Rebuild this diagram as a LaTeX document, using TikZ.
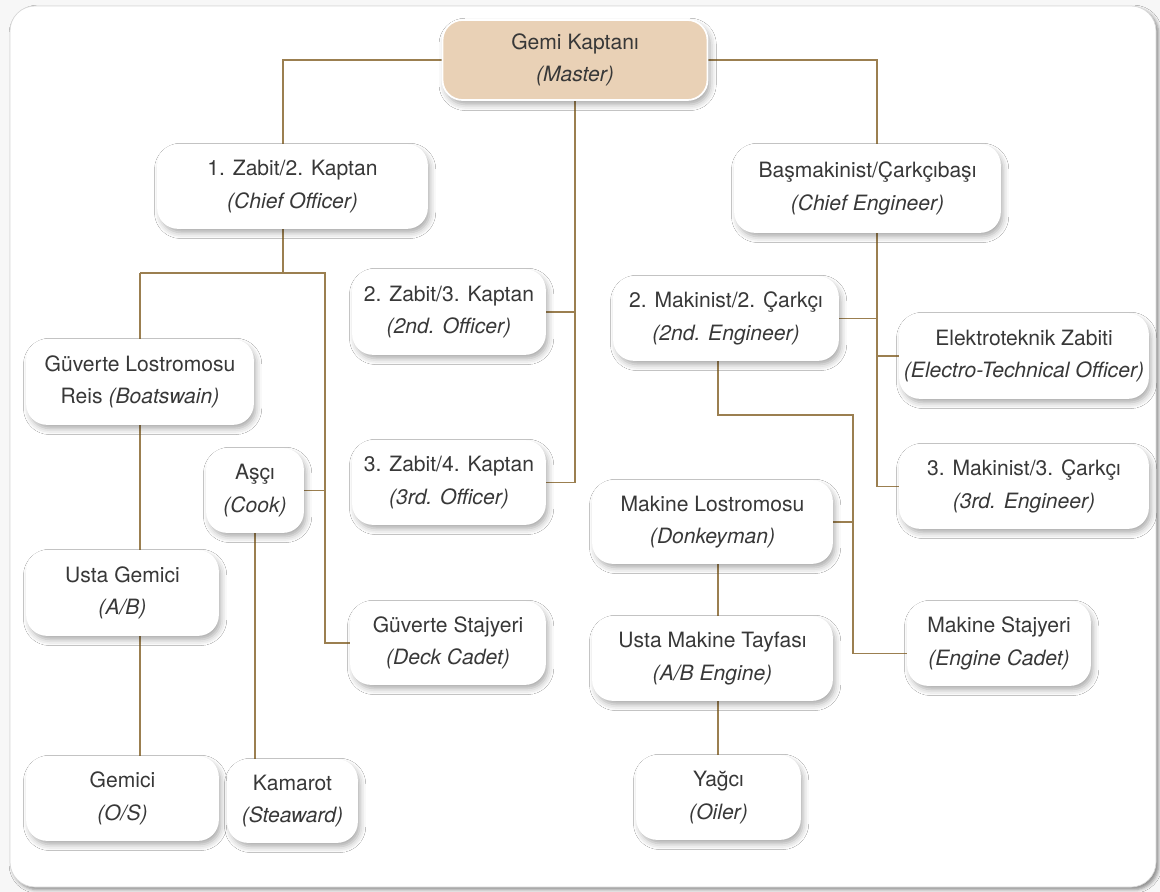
\documentclass[tikz,border=0pt]{standalone}
\usepackage{fontspec}
\setmainfont{TeX Gyre Heros}
\usetikzlibrary{shadows.blur,backgrounds}
\definecolor{linkbrown}{HTML}{9B7F50}
\definecolor{mastertan}{HTML}{E9D1B6}
\definecolor{inktext}{HTML}{383838}
\tikzset{
  role/.style={draw=white,line width=1pt,fill=white,rounded corners=0.4cm,inner sep=0pt,
    align=center,text=inktext,font=\fontsize{12}{18.5}\selectfont,
    blur shadow={shadow xshift=1.5pt,shadow yshift=-2.5pt,shadow blur radius=3.5pt,shadow opacity=35}},
  boxsize/.style 2 args={minimum width=#1cm,minimum height=#2cm},
  link/.style={draw=linkbrown,line width=1.1pt}
}
\newcommand{\engname}[1]{\textit{(#1)}}
\begin{document}
\begin{tikzpicture}[x=0.02cm,y=-0.02cm]
\useasboundingbox(0,0)rectangle(1160,892);
\node[role,boxsize={5.3}{1.6},fill=mastertan](master)at(575,60){Gemi Kaptanı\\\engname{Master}};
\node[role,boxsize={5.38}{1.66}](co)at(292.5,186.5){1. Zabit/2. Kaptan\\\engname{Chief Officer}};
\node[role,boxsize={5.3}{1.74}](ce)at(867.5,188.5){Başmakinist/Çarkçıbaşı\\\engname{Chief Engineer}};
\node[role,boxsize={3.84}{1.68}](off2)at(449,312){2. Zabit/3. Kaptan\\\engname{2nd. Officer}};
\node[role,boxsize={3.84}{1.66}](off3)at(449,482.5){3. Zabit/4. Kaptan\\\engname{3rd. Officer}};
\node[role,boxsize={4.48}{1.66}](eng2)at(726,318.5){2. Makinist/2. Çarkçı\\\engname{2nd. Engineer}};
\node[role,boxsize={4.96}{1.68}](eto)at(1024,356){Elektroteknik Zabiti\\\engname{Electro-Technical Officer}};
\node[role,boxsize={4.96}{1.66}](eng3)at(1024,486.5){3. Makinist/3. Çarkçı\\\engname{3rd. Engineer}};
\node[role,boxsize={4.52}{1.68}](bosun)at(140,382){Güverte Lostromosu\\Reis \engname{Boatswain}};
\node[role,boxsize={1.92}{1.66}](cook)at(255,490.5){Aşçı\\\engname{Cook}};
\node[role,boxsize={4.78}{1.64}](donkey)at(712.5,522){Makine Lostromosu\\\engname{Donkeyman}};
\node[role,boxsize={3.82}{1.68}](ab)at(122.5,593){Usta Gemici\\\engname{A/B}};
\node[role,boxsize={3.88}{1.64}](dcadet)at(448,643){Güverte Stajyeri\\\engname{Deck Cadet}};
\node[role,boxsize={4.78}{1.66}](abeng)at(712.5,658.5){Usta Makine Tayfası\\\engname{A/B Engine}};
\node[role,boxsize={3.64}{1.66}](ecadet)at(999,643.5){Makine Stajyeri\\\engname{Engine Cadet}};
\node[role,boxsize={3.82}{1.66}](os)at(122.5,798.5){Gemici\\\engname{O/S}};
\node[role,boxsize={2.58}{1.64}](steward)at(292.5,801){Kamarot\\\engname{Steaward}};
\node[role,boxsize={3.26}{1.66}](oiler)at(718.5,797.5){Yağcı\\\engname{Oiler}};
\begin{pgfonlayer}{background}
\fill[gray!6](0,0)rectangle(1160,892);
\draw[gray!30,fill=white,rounded corners=0.5cm,
  blur shadow={shadow xshift=1.5pt,shadow yshift=-1.5pt,shadow blur radius=2pt,shadow opacity=45}]
  (10,6)rectangle(1156,887);
% deck side
\coordinate(dk)at(283,273);
\coordinate(galley)at(325,273);
\draw[link](master.west)-|(co.north-|dk);
\draw[link](co.south-|dk)--(dk);
\draw[link](bosun.north|-dk)--(galley)|-(dcadet.west);
\draw[link](bosun.north|-dk)--(bosun.north|-os.north);
\draw[link](cook.east)--(cook.east-|galley);
\draw[link](cook.south)--(cook.south|-steward.north);
\draw[link](master.south)|-(off3.east);
\draw[link](off2.east)--(off2.east-|master.south);
% engine side
\coordinate(eb)at(877,232);
\coordinate(mc)at(718,415);
\coordinate(mb)at(853,415);
\draw[link](master.east)-|(ce.north-|eb);
\draw[link](ce.south-|eb)|-(eng3.west);
\draw[link](eng2.east)--(eng2.east-|eb);
\draw[link](eto.west)--(eto.west-|eb);
\draw[link](eng2.south-|mc)--(mc)--(mb)|-([yshift=-0.2cm]ecadet.west);
\draw[link](donkey.east)--(donkey.east-|mb);
\draw[link](donkey.south-|mc)--(oiler.north-|mc);
\end{pgfonlayer}
\end{tikzpicture}
\end{document}
